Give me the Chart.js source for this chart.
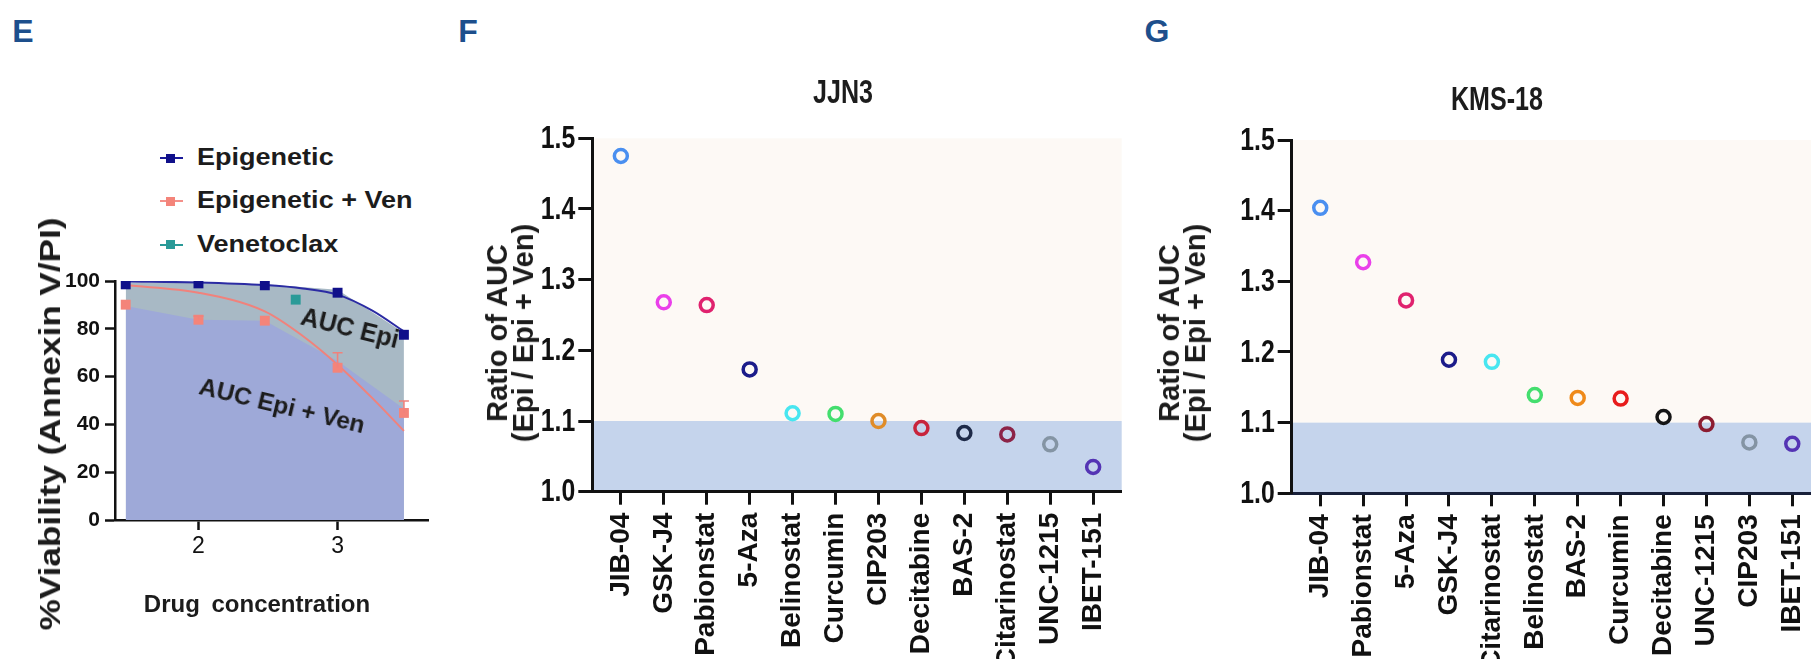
<!DOCTYPE html>
<html><head><meta charset="utf-8">
<script src="https://cdn.jsdelivr.net/npm/chart.js@4.4.1/dist/chart.umd.min.js"></script>
<style>
html,body{margin:0;padding:0;}
body{width:1811px;height:659px;overflow:hidden;background:#fff;position:relative;font-family:'Liberation Sans',Arial,sans-serif;color:#1c1c1c;}
canvas{position:absolute;top:0;}
.t{position:absolute;white-space:nowrap;line-height:1;font-weight:bold;transform:translate(-50%,-50%);}
.panel{font-size:32px;color:#1d4f8c;}
.leg{position:absolute;white-space:nowrap;line-height:1;font-weight:bold;font-size:23.5px;transform-origin:0 50%;transform:translate(0,-50%) scaleX(1.15);}
.mline{position:absolute;height:2px;width:23px;}
.msq{position:absolute;width:9px;height:9px;}
</style></head><body>

<div class="t panel" style="left:23px;top:31px">E</div>
<div class="t panel" style="left:468px;top:31px">F</div>
<div class="t panel" style="left:1157px;top:31px">G</div>

<!-- legend panel E -->
<div class="mline" style="left:160px;top:157px;background:#1a1a9a"></div><div class="msq" style="left:166px;top:153.5px;background:#10108a"></div>
<div class="leg" style="left:197px;top:158px">Epigenetic</div>
<div class="mline" style="left:160px;top:200px;background:#f4908a"></div><div class="msq" style="left:166px;top:196.5px;background:#f4847a"></div>
<div class="leg" style="left:197px;top:201px">Epigenetic + Ven</div>
<div class="mline" style="left:160px;top:243.5px;background:#2a9a98"></div><div class="msq" style="left:166px;top:240px;background:#2a9a98"></div>
<div class="leg" style="left:197px;top:244.5px">Venetoclax</div>

<canvas id="cE" width="470" height="659" style="left:0"></canvas>
<canvas id="cF" width="740" height="659" style="left:440px"></canvas>
<canvas id="cG" width="660" height="659" style="left:1180px"></canvas>

<div class="t" style="left:50px;top:424px;font-size:30px;transform:translate(-50%,-50%) rotate(-90deg) scaleX(1.17)">%Viability (Annexin V/PI)</div>
<div class="t" style="left:257px;top:604px;font-size:24px;word-spacing:5px">Drug concentration</div>
<div class="t" style="left:350px;top:328px;font-size:25px;transform:translate(-50%,-50%) rotate(14deg)">AUC Epi</div>
<div class="t" style="left:282px;top:406px;font-size:24.5px;transform:translate(-50%,-50%) rotate(13.5deg)">AUC Epi + Ven</div>

<div class="t" style="left:843px;top:91px;font-size:33px;transform:translate(-50%,-50%) scaleX(0.76)">JJN3</div>
<div class="t" style="left:1497px;top:98px;font-size:33px;transform:translate(-50%,-50%) scaleX(0.76)">KMS-18</div>
<div class="t" style="left:510px;top:333px;font-size:29px;line-height:26px;text-align:center;transform:translate(-50%,-50%) rotate(-90deg)">Ratio of AUC<br>(Epi / Epi + Ven)</div>
<div class="t" style="left:1182px;top:333px;font-size:29px;line-height:26px;text-align:center;transform:translate(-50%,-50%) rotate(-90deg)">Ratio of AUC<br>(Epi / Epi + Ven)</div>

<script>
// ---------- Panel E data ----------
const eConc = [1.477, 2.0, 2.477, 3.0, 3.477];
const eEpi = [98.6, 99.0, 98.2, 95.1, 77.5];
const eEpiVen = [90.1, 83.8, 83.4, 63.7, 44.8];
const eEpiVenErr = [0, 1.5, 0, 6.3, 5.0];
const venConc = [2.699];
const venVal = [92.2];
const fitX = [1.477, 2.0, 2.477, 2.75, 3.0, 3.25, 3.477];
const fitEpi = [99.8, 99.4, 98.3, 96.9, 94.3, 87.6, 78.9];
const fitEpiVen = [98.3, 95.1, 87.3, 77.0, 65.0, 51.0, 37.3];
const aucEpi = [99.3, 99.5, 98.6, 96.3, 78.3];
const aucEpiVen = [89.5, 83.8, 83.4, 66.5, 46.5];
const eXTicks = [2, 3];
const eYTicks = [0, 20, 40, 60, 80, 100];

// ---------- Panel F data (JJN3) ----------
const jjn3Drugs = ['JIB-04','GSK-J4','Pabionstat','5-Aza','Belinostat','Curcumin','CIP203','Decitabine','BAS-2','Citarinostat','UNC-1215','IBET-151'];
const jjn3Ratio = [1.475, 1.268, 1.264, 1.173, 1.111, 1.110, 1.100, 1.090, 1.083, 1.081, 1.067, 1.035];
const jjn3Colors = ['#4a8ff0','#ea40ea','#e0226e','#1c1c8a','#48e6f0','#44de6e','#e08c28','#c8243c','#1e2a48','#8c2448','#8494a4','#5434b4'];

// ---------- Panel G data (KMS-18) ----------
const kmsDrugs = ['JIB-04','Pabionstat','5-Aza','GSK-J4','Citarinostat','Belinostat','BAS-2','Curcumin','Decitabine','UNC-1215','CIP203','IBET-151'];
const kmsRatio = [1.404, 1.327, 1.273, 1.189, 1.186, 1.139, 1.135, 1.134, 1.108, 1.098, 1.072, 1.070];
const kmsColors = ['#4a8ff0','#ea40ea','#e0226e','#1c1c8a','#48e6f0','#44de6e','#ef8a1a','#e81c1c','#151515','#8c1c30','#8494a4','#5434b4'];

const ratioTicks = [1.0, 1.1, 1.2, 1.3, 1.4, 1.5];
const ratioThreshold = 1.1;

Chart.defaults.font.family = "'Liberation Sans', Arial, sans-serif";
Chart.defaults.color = '#111';

const pts = (xs, ys) => xs.map((x, i) => ({x, y: ys[i]}));

const zonePlugin = {
  id: 'zones',
  beforeDraw(chart, args, o) {
    if (!o || !o.on) return;
    const {ctx, chartArea: a, scales: {y}} = chart;
    const yt = y.getPixelForValue(o.threshold);
    ctx.save();
    ctx.fillStyle = o.upper;
    ctx.fillRect(a.left, a.top, a.right - a.left, yt - a.top);
    ctx.fillStyle = o.lower;
    ctx.fillRect(a.left, yt, a.right - a.left, a.bottom - yt);
    ctx.restore();
  }
};
// condensed y tick labels (drawn from the y scale's own ticks)
const condTicks = {
  id: 'condTicks',
  afterDraw(chart, args, o) {
    if (!o || !o.on) return;
    const {ctx, chartArea: a, scales: {y}} = chart;
    ctx.save();
    ctx.fillStyle = '#111';
    ctx.font = 'bold ' + o.size + "px 'Liberation Sans', Arial, sans-serif";
    ctx.textAlign = 'right';
    ctx.textBaseline = 'middle';
    y.ticks.forEach(t => {
      const py = y.getPixelForValue(t.value);
      ctx.save();
      ctx.translate(a.left - o.gap, py + 1);
      ctx.scale(o.sx, 1);
      ctx.fillText(t.value.toFixed(1), 0, 0);
      ctx.restore();
    });
    ctx.restore();
  }
};
const errPlugin = {
  id: 'errbars',
  afterDatasetsDraw(chart, args, o) {
    if (!o || !o.on) return;
    const {ctx, scales: {x, y}} = chart;
    ctx.save();
    ctx.strokeStyle = o.color;
    ctx.lineWidth = 1.6;
    o.xs.forEach((xv, i) => {
      const e = o.err[i];
      if (!e) return;
      const px = x.getPixelForValue(xv);
      const y0 = y.getPixelForValue(o.ys[i]);
      const y1 = y.getPixelForValue(o.ys[i] + e);
      ctx.beginPath();
      ctx.moveTo(px, y0); ctx.lineTo(px, y1);
      ctx.moveTo(px - 5, y1); ctx.lineTo(px + 5, y1);
      ctx.stroke();
    });
    ctx.restore();
  }
};

// ---------- Chart E ----------
new Chart(document.getElementById('cE'), {
  type: 'line',
  data: {
    datasets: [
      {data: pts(eConc, eEpi), showLine: false, pointStyle: 'rect', pointRadius: 7, backgroundColor: '#10108a', borderColor: '#10108a', borderWidth: 0},
      {data: pts(eConc, eEpiVen), showLine: false, pointStyle: 'rect', pointRadius: 7, backgroundColor: '#f4847a', borderColor: '#f4847a', borderWidth: 0},
      {data: pts(venConc, venVal), showLine: false, pointStyle: 'rect', pointRadius: 7, backgroundColor: '#2a9a98', borderColor: '#2a9a98', borderWidth: 0},
      {data: pts(fitX, fitEpi), borderColor: '#2b2ba3', borderWidth: 2, pointRadius: 0, cubicInterpolationMode: 'monotone', fill: false},
      {data: pts(fitX, fitEpiVen), borderColor: '#f0827c', borderWidth: 2, pointRadius: 0, cubicInterpolationMode: 'monotone', fill: false},
      {data: pts(eConc, aucEpiVen), borderWidth: 0, pointRadius: 0, tension: 0, fill: 'origin', backgroundColor: '#9ea9d8', borderColor: 'rgba(0,0,0,0)'},
      {data: pts(eConc, aucEpi), borderWidth: 0, pointRadius: 0, tension: 0, fill: 'origin', backgroundColor: '#a8b9c5', borderColor: 'rgba(0,0,0,0)'}
    ]
  },
  options: {
    responsive: false, animation: false, events: [],
    layout: {padding: {left: 0, top: 281, right: 42, bottom: 0}},
    plugins: {legend: {display: false}, tooltip: {enabled: false},
      errbars: {on: true, xs: eConc, ys: eEpiVen, err: eEpiVenErr, color: '#f0827c'}},
    scales: {
      x: {type: 'linear', min: 1.4, max: 3.65,
        afterBuildTicks: s => { s.ticks = eXTicks.map(v => ({value: v})); },
        afterFit: s => { s.height = 139; },
        grid: {drawOnChartArea: false, tickLength: 10, tickWidth: 2.5, tickColor: '#111'},
        border: {display: true, width: 2.5, color: '#111'},
        ticks: {font: {size: 23}, padding: 3, color: '#111', maxRotation: 0, callback: v => String(v)}},
      y: {min: 0, max: 100,
        afterBuildTicks: s => { s.ticks = eYTicks.map(v => ({value: v})); },
        afterFit: s => { s.width = 115; },
        grid: {drawOnChartArea: false, tickLength: 10, tickWidth: 2.5, tickColor: '#111'},
        border: {display: true, width: 2.5, color: '#111'},
        ticks: {font: {size: 21, weight: 'bold'}, padding: 5, color: '#111'}}
    }
  },
  plugins: [errPlugin]
});

// ---------- Ratio charts ----------
function ratioChart(id, drugs, vals, colors, o) {
  new Chart(document.getElementById(id), {
    type: 'scatter',
    data: {datasets: [{data: vals.map((v, i) => ({x: i, y: v})), pointRadius: 6.5, pointBorderWidth: 3.5,
      pointBorderColor: colors, pointBackgroundColor: 'rgba(0,0,0,0)', showLine: false}]},
    options: {
      responsive: false, animation: false, events: [],
      layout: {padding: o.pad},
      plugins: {legend: {display: false}, tooltip: {enabled: false},
        zones: {on: true, threshold: ratioThreshold, upper: '#fdf9f5', lower: '#c5d4ec'},
        condTicks: {on: true, size: 31, sx: 0.8, gap: 17}},
      scales: {
        x: {type: 'linear', min: -0.665, max: drugs.length - 1 + 0.665,
          afterBuildTicks: s => { s.ticks = drugs.map((_, i) => ({value: i})); },
          afterFit: s => { s.height = o.xH; },
          grid: {drawOnChartArea: false, tickLength: 13, tickWidth: 3, tickColor: '#111'},
          border: {display: true, width: 3, color: o.xAxisColor},
          ticks: {autoSkip: false, minRotation: 90, maxRotation: 90, padding: 8, color: '#111',
            font: {size: 28, weight: 'bold'}, callback: (v, i) => drugs[i]}},
        y: {min: 1.0, max: 1.5,
          afterBuildTicks: s => { s.ticks = ratioTicks.map(v => ({value: v})); },
          afterFit: s => { s.width = o.yW; },
          grid: {drawOnChartArea: false, tickLength: 14, tickWidth: 3, tickColor: '#111'},
          border: {display: true, width: 3, color: '#111'},
          ticks: {display: false}}
      }
    },
    plugins: [zonePlugin, condTicks]
  });
}
ratioChart('cF', jjn3Drugs, jjn3Ratio, jjn3Colors, {pad: {left: 0, top: 138.3, right: 58.3, bottom: 0}, yW: 152.3, xH: 167.3, xAxisColor: '#111'});
ratioChart('cG', kmsDrugs, kmsRatio, kmsColors, {pad: {left: 0, top: 140, right: 19.2, bottom: 0}, yW: 111.7, xH: 165.7, xAxisColor: '#18203a'});
</script>
</body></html>
